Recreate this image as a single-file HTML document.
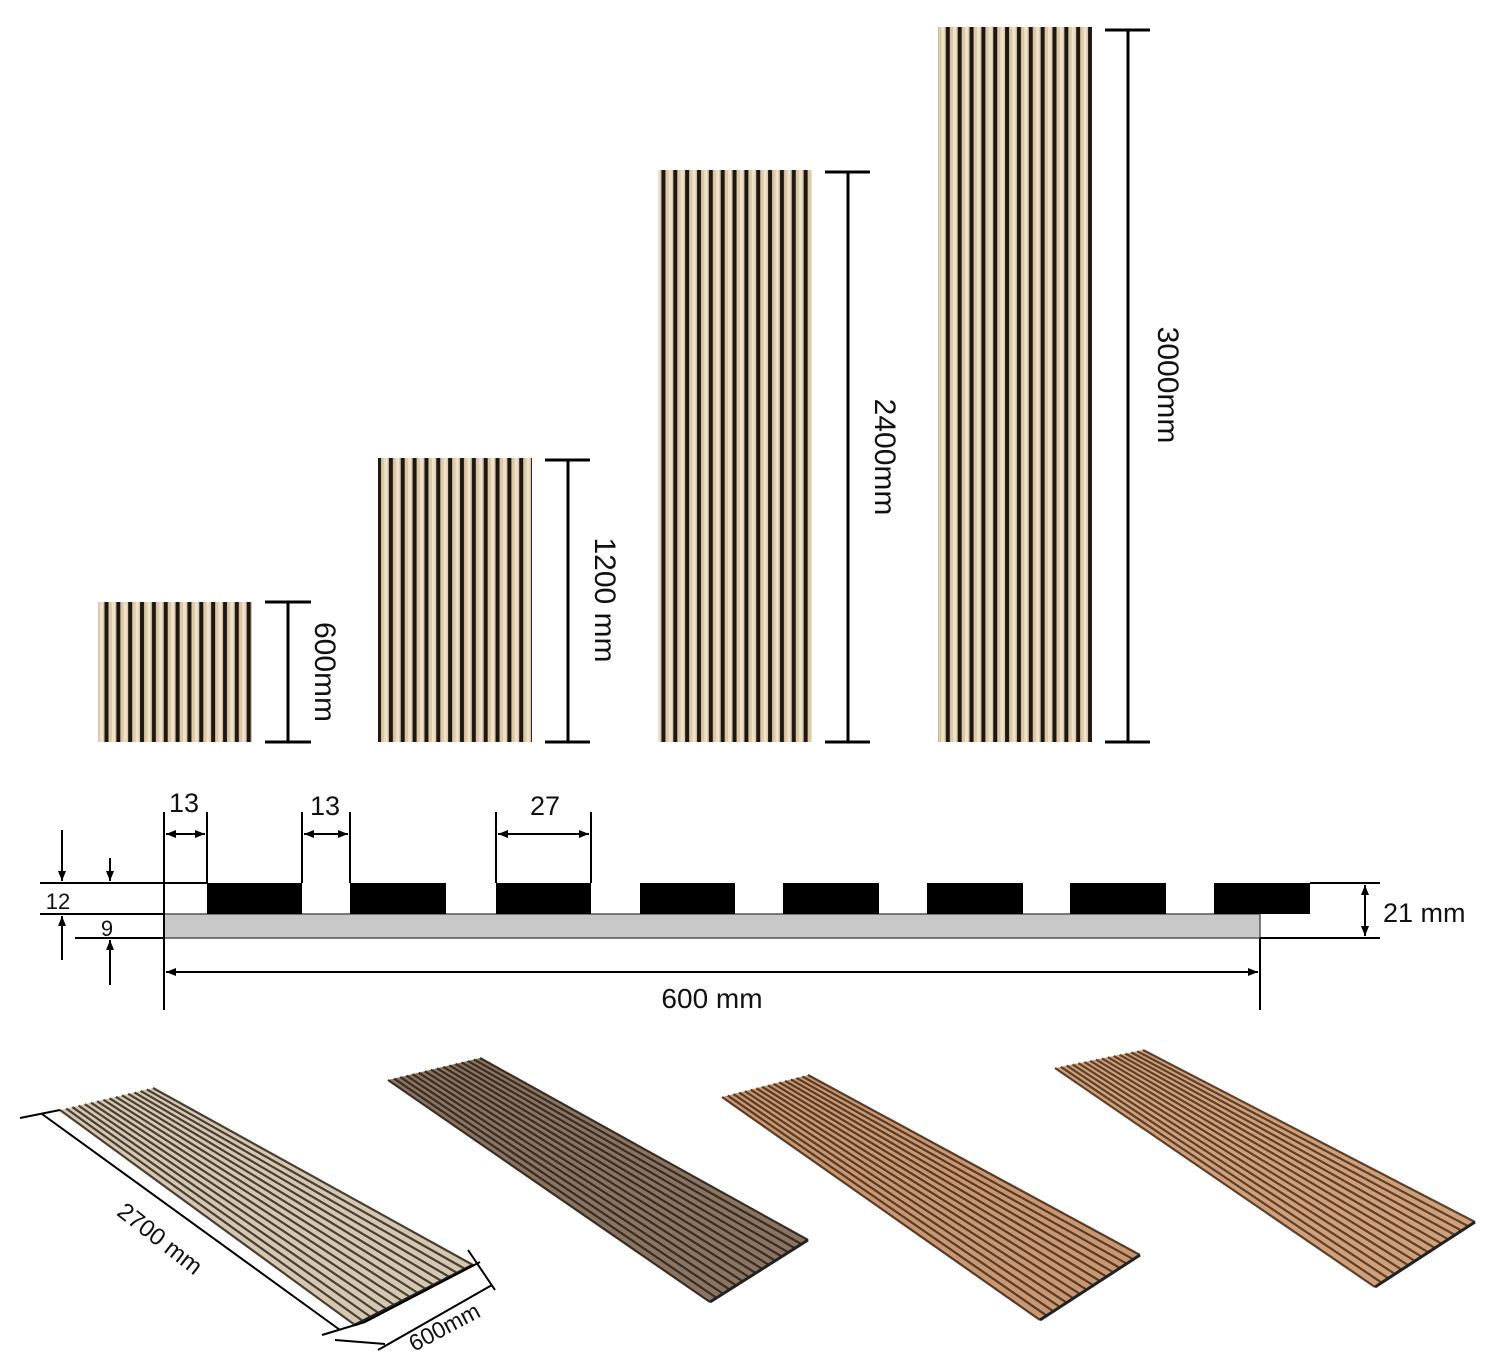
<!DOCTYPE html>
<html><head><meta charset="utf-8"><style>
html,body{margin:0;padding:0;background:#fff;}
svg{display:block;}
text{font-family:"Liberation Sans",Arial,sans-serif;fill:#111;}
</style></head><body>
<svg id="s" width="1500" height="1371" viewBox="0 0 1500 1371" xmlns="http://www.w3.org/2000/svg">
<defs>
<pattern id="vs" x="98" y="0" width="11.85" height="10" patternUnits="userSpaceOnUse">
<rect width="11.85" height="10" fill="#dcc9a8"/>
<rect x="2" width="3" height="10" fill="#efe3cc"/>
<rect x="6.5" width="4" height="10" fill="#1e1610"/>
</pattern>
<marker id="ar" viewBox="0 0 10 10" refX="10" refY="5" markerWidth="12" markerHeight="10" markerUnits="userSpaceOnUse" orient="auto-start-reverse"><path d="M0,1 L10,5 L0,9 z" fill="#000"/></marker>
</defs>
<g id="up">
<rect x="98" y="602" width="154" height="140" fill="url(#vs)"/>
<rect x="378" y="458" width="154" height="284" fill="url(#vs)"/>
<rect x="658" y="170" width="154" height="572" fill="url(#vs)"/>
<rect x="938" y="27" width="154" height="715" fill="url(#vs)"/>
</g>
<g stroke="#000" stroke-width="3" fill="none">
<path d="M265 602H311M288 602V742M265 742H311"/>
<path d="M545 460H590M568 460V742M545 742H590"/>
<path d="M825 172H870M848 172V742M825 742H870"/>
<path d="M1105 30H1150M1128 30V742M1105 742H1150"/>
</g>
<text font-size="30" transform="translate(315,672) rotate(90)" text-anchor="middle">600mm</text>
<text font-size="30" transform="translate(595,600) rotate(90)" text-anchor="middle">1200 mm</text>
<text font-size="30" transform="translate(875,457) rotate(90)" text-anchor="middle">2400mm</text>
<text font-size="30" transform="translate(1158,385) rotate(90)" text-anchor="middle">3000mm</text>

<rect x="164" y="914" width="1096" height="24" fill="#c8c8c8" stroke="#555" stroke-width="1.5"/>
<g fill="#000">
<rect x="207" y="883" width="95" height="31"/><rect x="350" y="883" width="96" height="31"/>
<rect x="496" y="883" width="95" height="31"/><rect x="640" y="883" width="95" height="31"/>
<rect x="783" y="883" width="96" height="31"/><rect x="927" y="883" width="96" height="31"/>
<rect x="1070" y="883" width="96" height="31"/><rect x="1214" y="883" width="96" height="31"/>
</g>
<g stroke="#000" stroke-width="2" fill="none">
<path d="M40 883H207M40 914H164M75 938H164M1310 883H1380M1260 938H1380"/>
<path d="M164 812V1010M207 812V883M302 812V883M350 812V883M496 812V883M591 812V883M1260 938V1010"/>
</g>
<g stroke="#000" stroke-width="2">
<line x1="166" y1="834" x2="205" y2="834" marker-start="url(#ar)" marker-end="url(#ar)"/>
<line x1="304" y1="834" x2="348" y2="834" marker-start="url(#ar)" marker-end="url(#ar)"/>
<line x1="498" y1="834" x2="589" y2="834" marker-start="url(#ar)" marker-end="url(#ar)"/>
<line x1="166" y1="972" x2="1258" y2="972" marker-start="url(#ar)" marker-end="url(#ar)"/>
<line x1="1365" y1="885" x2="1365" y2="936" marker-start="url(#ar)" marker-end="url(#ar)"/>
<line x1="62" y1="830" x2="62" y2="881" marker-end="url(#ar)"/>
<line x1="110" y1="858" x2="110" y2="881" marker-end="url(#ar)"/>
<line x1="62" y1="960" x2="62" y2="916" marker-end="url(#ar)"/>
<line x1="110" y1="985" x2="110" y2="940" marker-end="url(#ar)"/>
</g>
<text x="184" y="812" font-size="27" text-anchor="middle">13</text>
<text x="325" y="815" font-size="27" text-anchor="middle">13</text>
<text x="545" y="815" font-size="27" text-anchor="middle">27</text>
<text x="58" y="909" font-size="22" text-anchor="middle">12</text>
<text x="107" y="936" font-size="22" text-anchor="middle">9</text>
<text x="1383" y="922" font-size="27">21 mm</text>
<text x="712" y="1008" font-size="28" text-anchor="middle">600 mm</text>

<g id="persp"></g>
<g stroke="#000" stroke-width="2" fill="none">
<path d="M20 1118L60 1110M42 1114L340 1330M322 1335L365 1322M365 1322L480 1262M335 1340L385 1344M468 1250L495 1290M378 1350L492 1285"/>
</g>
<text font-size="24" transform="translate(155,1245) rotate(38)" text-anchor="middle">2700 mm</text>
<text font-size="23" transform="translate(448,1334) rotate(-28)" text-anchor="middle">600mm</text>
</svg>
<script>
(function(){
var g=document.getElementById('persp'),NS='http://www.w3.org/2000/svg';
var P=[
 {q:[[60,1110],[153,1088],[473,1265],[355,1325]],bg:'#d5c8b2',ln:'#4a3e32'},
 {q:[[388,1080],[480,1058],[808,1240],[710,1302]],bg:'#8a7462',ln:'#3a2c22'},
 {q:[[722,1097],[808,1075],[1140,1255],[1040,1320]],bg:'#c89872',ln:'#5a3a26'},
 {q:[[1055,1068],[1143,1050],[1475,1222],[1375,1287]],bg:'#cfa07a',ln:'#5e3f2a'}];
P.forEach(function(p){
 var q=p.q,poly=document.createElementNS(NS,'polygon');
 poly.setAttribute('points',q.map(function(a){return a.join(',')}).join(' '));
 poly.setAttribute('fill',p.bg);g.appendChild(poly);
 var n=15;
 for(var i=0;i<=n;i++){var t=i/n;
  var x1=q[0][0]+(q[1][0]-q[0][0])*t,y1=q[0][1]+(q[1][1]-q[0][1])*t;
  var x2=q[3][0]+(q[2][0]-q[3][0])*t,y2=q[3][1]+(q[2][1]-q[3][1])*t;
  var l=document.createElementNS(NS,'line');
  l.setAttribute('x1',x1);l.setAttribute('y1',y1);l.setAttribute('x2',x2);l.setAttribute('y2',y2);
  l.setAttribute('stroke',p.ln);l.setAttribute('stroke-width','2.2');g.appendChild(l);}
 var e=document.createElementNS(NS,'line');
 e.setAttribute('x1',q[3][0]);e.setAttribute('y1',q[3][1]);e.setAttribute('x2',q[2][0]);e.setAttribute('y2',q[2][1]);
 e.setAttribute('stroke','#222');e.setAttribute('stroke-width','3');g.appendChild(e);
});
})();
</script>
</body></html>
